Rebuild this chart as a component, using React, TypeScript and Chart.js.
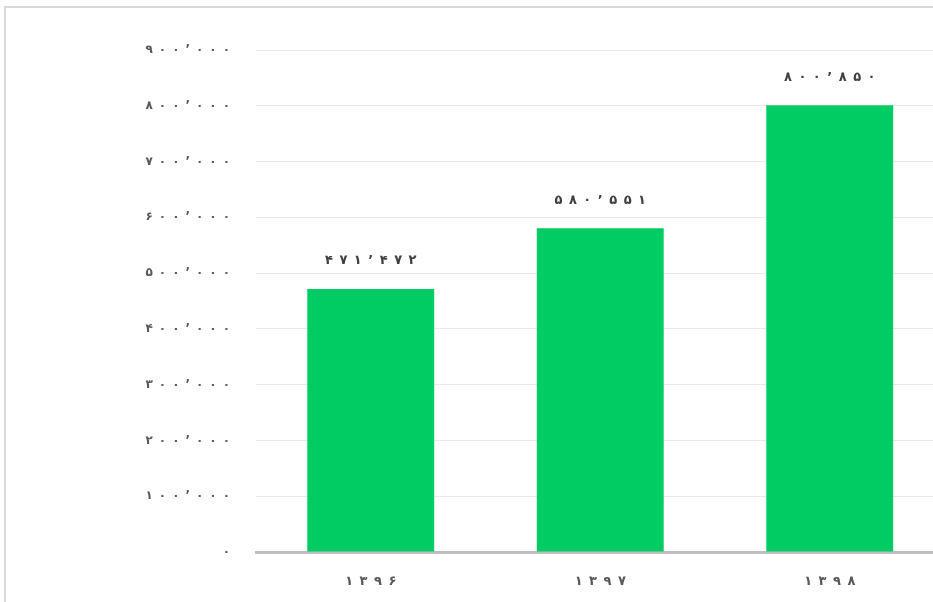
import React, { useEffect, useRef } from "react";
import { Chart, registerables } from "chart.js";

Chart.register(...registerables);

const categories: string[] = ["1396", "1397", "1398"];
const values: number[] = [471472, 580551, 800850];
const yTicks: number[] = [0, 100000, 200000, 300000, 400000, 500000, 600000, 700000, 800000, 900000];

const persianDigits = "۰۱۲۳۴۵۶۷۸۹";
const GAP = "\u2002";
const toFa = (s: string) => s.replace(/[0-9]/g, (d) => persianDigits[Number(d)]);
const spaced = (s: string) => Array.from(s).join(GAP);
const fmt = (n: number) => spaced(toFa(Math.round(n).toString().replace(/\B(?=(\d{3})+(?!\d))/g, "’")));

const FONT = "'DejaVu Sans', sans-serif";

const labelPlugin = {
  id: "barLabels",
  afterDatasetsDraw(chart: any) {
    const ctx = chart.ctx;
    const meta = chart.getDatasetMeta(0);
    ctx.save();
    ctx.font = `bold 13px ${FONT}`;
    ctx.fillStyle = "#404040";
    ctx.textAlign = "center";
    ctx.textBaseline = "middle";
    meta.data.forEach((el: any, i: number) => {
      ctx.fillText(fmt(values[i]), el.x, el.y - 28);
    });
    ctx.restore();
  },
};

export default function App() {
  const ref = useRef<HTMLCanvasElement>(null);
  useEffect(() => {
    if (!ref.current) return;
    const chart = new Chart(ref.current, {
      type: "bar",
      data: {
        labels: categories.map((c) => spaced(toFa(c))),
        datasets: [
          {
            data: values,
            backgroundColor: "#00cc63",
            categoryPercentage: 0.553,
            barPercentage: 1,
          },
        ],
      },
      options: {
        animation: false,
        responsive: false,
        devicePixelRatio: 1,
        layout: { padding: { top: 50, right: 15.5, left: 0, bottom: 0 } },
        plugins: { legend: { display: false }, tooltip: { enabled: false } },
        scales: {
          x: {
            grid: { display: false, drawTicks: false },
            border: { display: true, color: "#bfbfbf", width: 3 },
            ticks: { font: { family: FONT, size: 13, weight: "bold" }, color: "#595959", padding: 22 },
            afterFit: (s: any) => {
              s.height = 50;
            },
          },
          y: {
            min: 0,
            max: 900000,
            afterBuildTicks: (s: any) => {
              s.ticks = yTicks.map((v) => ({ value: v }));
            },
            grid: { color: "#e9e9e9", lineWidth: 1, drawTicks: false },
            border: { display: false },
            ticks: {
              font: { family: FONT, size: 12, weight: "bold" },
              color: "#595959",
              padding: 26,
              callback: (v: any) => fmt(Number(v)),
            },
            afterFit: (s: any) => {
              s.width = 256;
            },
          },
        },
      },
      plugins: [labelPlugin],
    });
    return () => chart.destroy();
  }, []);

  return (
    <div style={{ position: "fixed", left: 0, top: 0, width: 933, height: 602, overflow: "hidden", background: "#fff" }}>
      <div
        style={{
          position: "absolute",
          left: 4,
          top: 6,
          width: 1000,
          height: 700,
          border: "2px solid #d9d9d9",
          boxSizing: "border-box",
        }}
      />
      <canvas ref={ref} width={960} height={602} style={{ position: "absolute", left: 0, top: 0, width: 960, height: 602 }} />
    </div>
  );
}
